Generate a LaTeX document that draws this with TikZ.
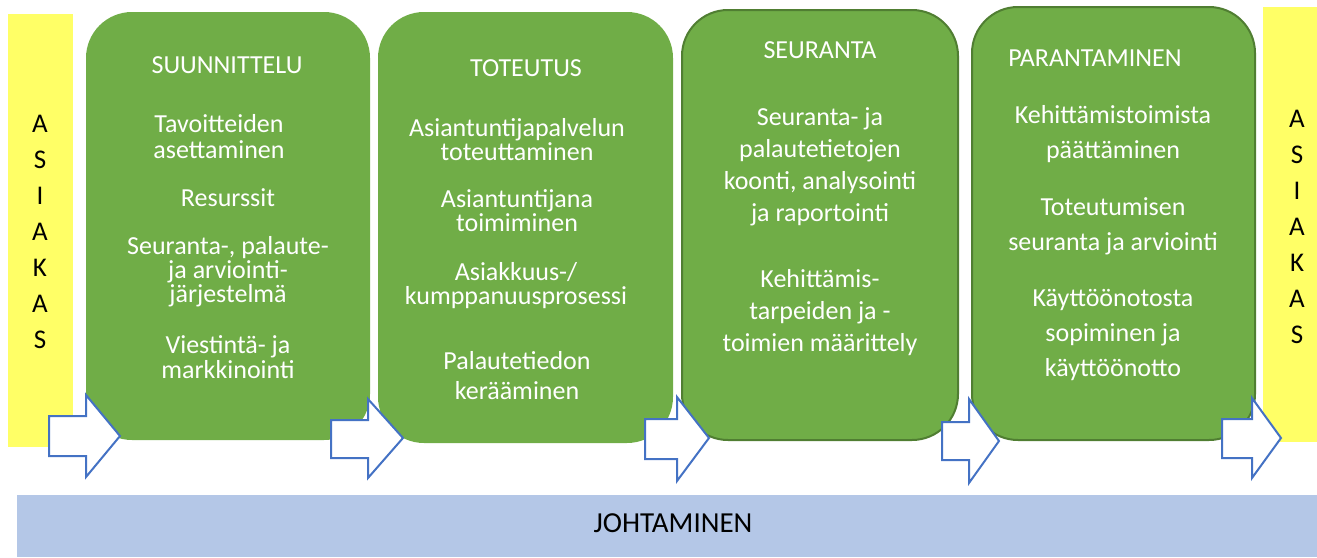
\documentclass[tikz,border=0pt]{standalone}
\usepackage{fontspec}
\setmainfont{Carlito}
\definecolor{pgreen}{HTML}{70AD47}
\definecolor{pgreendark}{HTML}{507E32}
\definecolor{pyellow}{HTML}{FFFF66}
\definecolor{pblue}{HTML}{B4C7E7}
\definecolor{parrow}{HTML}{4472C4}
\tikzset{
  phase/.style={fill=pgreen, rounded corners=46pt},
  phaseb/.style={phase, draw=pgreendark, line width=2pt},
  sidebar/.style={fill=pyellow},
  blockarrow/.style={fill=white, draw=parrow, line width=2pt, line join=miter},
  ttl/.style={text=white, font=\fontsize{26}{28}\selectfont, inner sep=0pt},
  body/.style={text=white, align=center, inner sep=0pt, font=\fontsize{26}{#1}\selectfont},
  letters/.style={align=center, inner sep=0pt, font=\fontsize{27}{36}\selectfont},
}
\begin{document}
\begin{tikzpicture}[x=1pt, y=-1pt]
\useasboundingbox (0,0) rectangle (1317,557);
% side bars
\fill[sidebar] (8,14) rectangle (73,447);
\fill[sidebar] (1263,7) rectangle (1317,442);
\node[letters] (asiakasL) at (40,232) {A\\S\\I\\A\\K\\A\\S};
\node[letters] (asiakasR) at (1297,227) {A\\S\\I\\A\\K\\A\\S};
% phase boxes
\path[phase] (86,12) rectangle (370,440);
\path[phase] (378,12) rectangle (673,443);
\path[phaseb] (682,10) rectangle (958,440);
\path[phaseb] (972,7) rectangle (1255,440);
% box 1
\node[ttl] (t1) at (227,65) {SUUNNITTELU};
\node[body=26] (b11) at (219,137) {Tavoitteiden\\asettaminen};
\node[body=26] (b12) at (228,198) {Resurssit};
\node[body=24] (b13) at (228,272) {Seuranta-, palaute-\\ja arviointi-\\järjestelmä};
\node[body=25] (b14) at (228,357) {Viestintä- ja\\markkinointi};
% box 2
\node[ttl] (t2) at (526,68) {TOTEUTUS};
\node[body=24] (b21) at (517,140) {Asiantuntijapalvelun\\toteuttaminen};
\node[body=24] (b22) at (517,211) {Asiantuntijana\\toimiminen};
\node[body=24] (b23) at (516,286) {Asiakkuus-/\\kumppanuusprosessi};
\node[body=30] (b24) at (517,376) {Palautetiedon\\kerääminen};
% box 3
\node[ttl] (t3) at (820,50) {SEURANTA};
\node[body=32] (b31) at (820,167) {Seuranta- ja\\palautetietojen\\koonti, analysointi\\ja raportointi};
\node[body=32] (b32) at (820,313) {Kehittämis-\\tarpeiden ja -\\toimien määrittely};
% box 4
\node[ttl] (t4) at (1095,58) {PARANTAMINEN};
\node[body=35] (b41) at (1113,134) {Kehittämistoimista\\päättäminen};
\node[body=35] (b42) at (1113,226) {Toteutumisen\\seuranta ja arviointi};
\node[body=35] (b43) at (1113,335) {Käyttöönotosta\\sopiminen ja\\käyttöönotto};
% block arrows
\draw[blockarrow] (49,416) -- (86,416) -- (86,395) -- (120,436) -- (86,477) -- (86,456) -- (49,456) -- cycle;
\draw[blockarrow] (331,420) -- (368,420) -- (368,399) -- (403,438) -- (368,478) -- (368,458) -- (331,458) -- cycle;
\draw[blockarrow] (645,419) -- (677,419) -- (677,397) -- (709,438) -- (677,481) -- (677,459) -- (645,459) -- cycle;
\draw[blockarrow] (942,422) -- (969,422) -- (969,399) -- (999,441) -- (969,483) -- (969,460) -- (942,460) -- cycle;
\draw[blockarrow] (1222,419) -- (1252,419) -- (1252,398) -- (1281,438) -- (1252,478) -- (1252,458) -- (1222,458) -- cycle;
% management bar
\fill[pblue] (17,495) rectangle (1317,557);
\node[font=\fontsize{29}{32}\selectfont, inner sep=0pt] (johto) at (673,523) {JOHTAMINEN};
\end{tikzpicture}
\end{document}
